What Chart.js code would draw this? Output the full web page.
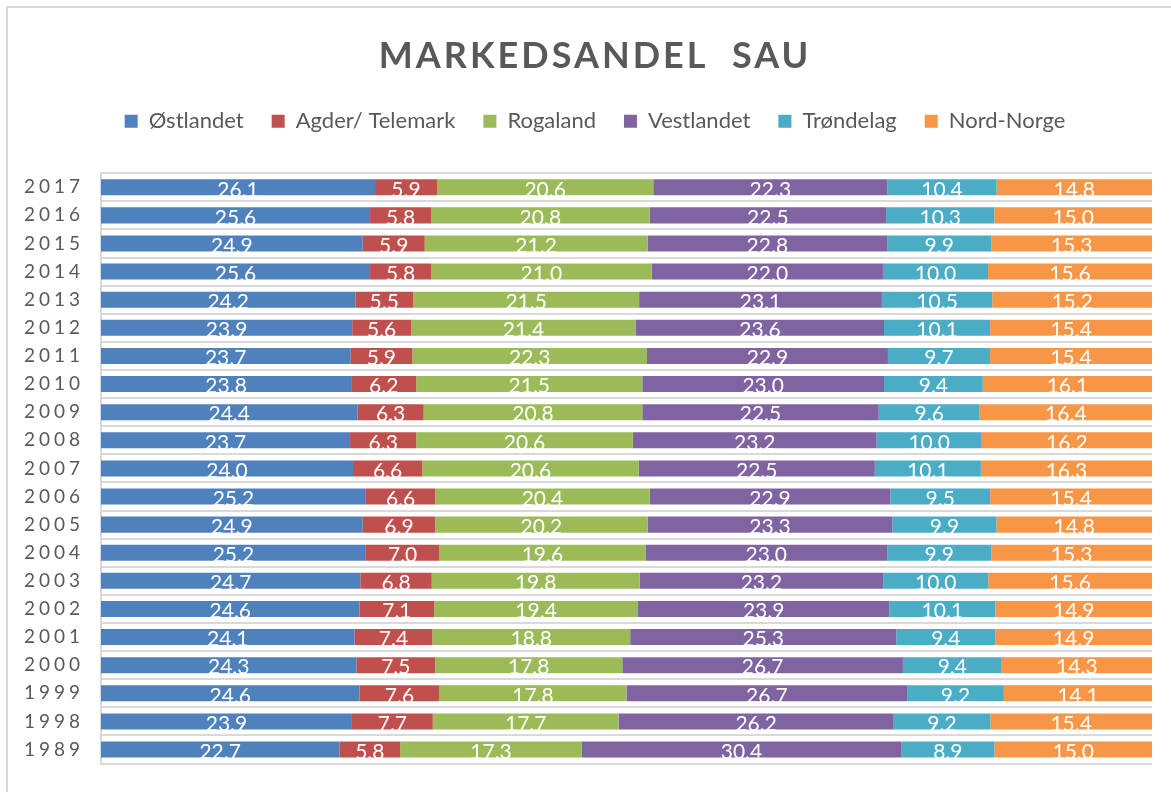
<!DOCTYPE html>
<html>
<head>
<meta charset="utf-8">
<script src="https://cdn.jsdelivr.net/npm/chart.js@4.4.0/dist/chart.umd.min.js"></script>
<style>
html,body{margin:0;padding:0;background:#fff;overflow:hidden;width:1171px;height:792px;}
#frame{position:absolute;left:6px;top:6px;width:1220px;height:900px;border:2px solid #d9d9d9;box-sizing:border-box;}
#wrap{position:absolute;left:0;top:0;width:1171px;height:792px;}
</style>
</head>
<body>
<div id="frame"></div>
<div id="wrap"><canvas id="c" width="1171" height="792"></canvas></div>
<script>
const chartTitle = 'MARKEDSANDEL  SAU';
const years = ['2017','2016','2015','2014','2013','2012','2011','2010','2009','2008','2007','2006','2005','2004','2003','2002','2001','2000','1999','1998','1989'];
const seriesNames = ['Østlandet','Agder/ Telemark','Rogaland','Vestlandet','Trøndelag','Nord-Norge'];
const ostlandet  = [26.1,25.6,24.9,25.6,24.2,23.9,23.7,23.8,24.4,23.7,24.0,25.2,24.9,25.2,24.7,24.6,24.1,24.3,24.6,23.9,22.7];
const agder      = [5.9,5.8,5.9,5.8,5.5,5.6,5.9,6.2,6.3,6.3,6.6,6.6,6.9,7.0,6.8,7.1,7.4,7.5,7.6,7.7,5.8];
const rogaland   = [20.6,20.8,21.2,21.0,21.5,21.4,22.3,21.5,20.8,20.6,20.6,20.4,20.2,19.6,19.8,19.4,18.8,17.8,17.8,17.7,17.3];
const vestlandet = [22.3,22.5,22.8,22.0,23.1,23.6,22.9,23.0,22.5,23.2,22.5,22.9,23.3,23.0,23.2,23.9,25.3,26.7,26.7,26.2,30.4];
const trondelag  = [10.4,10.3,9.9,10.0,10.5,10.1,9.7,9.4,9.6,10.0,10.1,9.5,9.9,9.9,10.0,10.1,9.4,9.4,9.2,9.2,8.9];
const nordnorge  = [14.8,15.0,15.3,15.6,15.2,15.4,15.4,16.1,16.4,16.2,16.3,15.4,14.8,15.3,15.6,14.9,14.9,14.3,14.1,15.4,15.0];
const colors = ['#4F81BD','#C0504D','#9BBB59','#8064A2','#4BACC6','#F79646'];

const seriesValues = [ostlandet, agder, rogaland, vestlandet, trondelag, nordnorge];
// 100% stacked: each row is scaled to its total
const totals = years.map((_, j) => seriesValues.reduce((s, arr) => s + arr[j], 0));
const datasets = seriesValues.map((arr, i) => ({
  label: seriesNames[i],
  data: arr.map((v, j) => v / totals[j] * 100),
  backgroundColor: colors[i],
  borderWidth: 0,
  barPercentage: 0.57,
  categoryPercentage: 1.0
}));

function withSpacing(obj, method, sp) {
  if (!obj || obj['__sp_' + method]) return;
  const orig = obj[method];
  obj[method] = function(...a) {
    const c = this.ctx;
    const prev = c.letterSpacing;
    c.letterSpacing = sp;
    const r = orig.apply(this, a);
    c.letterSpacing = prev;
    return r;
  };
  obj['__sp_' + method] = true;
}

const spacingPlugin = {
  id: 'spacing',
  beforeDraw(chart) {
    chart.ctx.letterSpacing = '0px';
    withSpacing(chart.titleBlock, 'draw', '3px');
    const y = chart.scales.y;
    if (y) {
      withSpacing(y, 'drawLabels', '4px');
      y._computeLabelArea = () => undefined; // don't clip the year labels
    }
  }
};

const valueLabels = {
  id: 'valueLabels',
  afterDatasetsDraw(chart) {
    const ctx = chart.ctx;
    ctx.save();
    ctx.letterSpacing = '0px';
    ctx.font = '21px Lato';
    ctx.fillStyle = '#ffffff';
    ctx.textAlign = 'center';
    ctx.textBaseline = 'middle';
    seriesValues.forEach((arr, i) => {
      const meta = chart.getDatasetMeta(i);
      meta.data.forEach((bar, j) => {
        ctx.fillText(arr[j].toFixed(1), (bar.x + bar.base) / 2, bar.y + 2.5);
      });
    });
    ctx.restore();
  }
};

new Chart(document.getElementById('c'), {
  type: 'bar',
  data: { labels: years, datasets },
  plugins: [spacingPlugin, valueLabels],
  options: {
    indexAxis: 'y',
    responsive: false,
    animation: false,
    layout: { padding: { left: 38, right: 19, top: 0, bottom: 24 } },
    plugins: {
      tooltip: { enabled: false },
      title: {
        display: true,
        text: chartTitle,
        color: '#595959',
        font: { family: 'Lato', size: 36, weight: 'bold' },
        padding: { top: 35, bottom: 4 }
      },
      legend: {
        display: true,
        position: 'top',
        labels: {
          boxWidth: 13,
          boxHeight: 13,
          padding: 28,
          color: '#595959',
          font: { family: 'Lato', size: 22 }
        }
      }
    },
    scales: {
      x: {
        stacked: true, min: 0, max: 100, position: 'top',
        grid: { display: false, drawTicks: false },
        border: { display: false },
        ticks: { display: false },
        afterFit(s) { s.height = 31; }
      },
      y: {
        stacked: true,
        grid: { color: '#d9d9d9', lineWidth: 2, drawTicks: false, offset: true },
        border: { color: '#d9d9d9', width: 2 },
        ticks: { color: '#595959', font: { family: 'Lato', size: 19 }, padding: 17 },
        afterFit(s) { s.width = 63; }
      }
    }
  }
});
</script>
</body>
</html>
